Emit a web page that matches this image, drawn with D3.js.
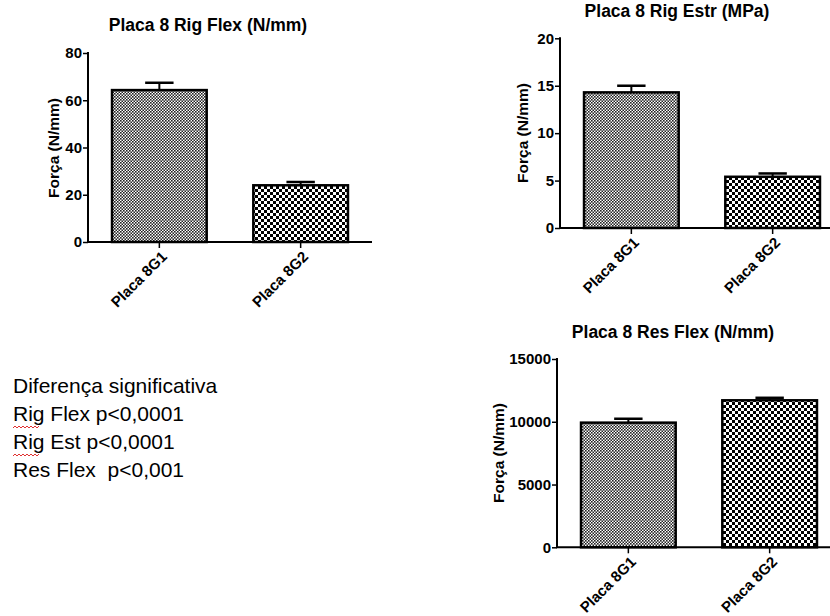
<!DOCTYPE html>
<html>
<head>
<meta charset="utf-8">
<script src="https://cdn.jsdelivr.net/npm/d3@7"></script>
<style>
  body { margin: 0; background: #fff; }
  text { font-family: "Liberation Sans", Arial, sans-serif; }
</style>
</head>
<body>
<div id="chart-area"></div>
<script>
/*
*    placa 8 - tres graficos de barras
*/
var groups = ["Placa 8G1", "Placa 8G2"];

var rigFlexMean = [64.3, 24.0];
var rigFlexErr = [3.1, 1.4];
var rigFlexTicks = [0, 20, 40, 60, 80];

var rigEstrMean = [14.3, 5.4];
var rigEstrErr = [0.7, 0.35];
var rigEstrTicks = [0, 5, 10, 15, 20];

var resFlexMean = [9930, 11710];
var resFlexErr = [310, 200];
var resFlexTicks = [0, 5000, 10000, 15000];

var notes = ["Diferença significativa", "Rig Flex p<0,0001", "Rig Est p<0,0001", "Res Flex  p<0,001"];

var width = 830;
var height = 616;
var svg = d3.select("#chart-area")
	.append("svg")
	.attr("width", width)
	.attr("height", height);

// padroes de preenchimento
var defs = svg.append("defs");
var fine = defs.append("pattern")
	.attr("id", "fine")
	.attr("patternUnits", "userSpaceOnUse")
	.attr("width", 3).attr("height", 3);
fine.append("rect").attr("width", 3).attr("height", 3).attr("fill", "#fff");
fine.append("rect").attr("width", 1.6).attr("height", 1.6).attr("fill", "#222");
fine.append("rect").attr("x", 1.5).attr("y", 1.5).attr("width", 1.5).attr("height", 1.5).attr("fill", "#222");

var coarse = defs.append("pattern")
	.attr("id", "coarse")
	.attr("patternUnits", "userSpaceOnUse")
	.attr("width", 6).attr("height", 6);
coarse.append("rect").attr("width", 6).attr("height", 6).attr("fill", "#fff");
coarse.append("rect").attr("width", 3).attr("height", 3).attr("fill", "#000");
coarse.append("rect").attr("x", 3).attr("y", 3).attr("width", 3).attr("height", 3).attr("fill", "#000");

var fills = ["url(#fine)", "url(#coarse)"];

function drawChart(o) {
	var g = svg.append("g");

	var x = d3.scaleBand()
		.domain(groups)
		.range([o.left, o.left + 284])
		.paddingInner(0.33)
		.paddingOuter(0.17);

	var y = d3.scaleLinear()
		.domain(o.domain)
		.range([o.bottom, o.top]);

	var rows = groups.map((d, i) => { return {name: d, mean: o.mean[i], err: o.err[i], fill: fills[i]}; });

	// barras
	g.selectAll("rect.bar").data(rows)
		.enter()
		.append("rect")
		.attr("class", "bar")
		.attr("x", (d) => { return x(d.name); })
		.attr("y", (d) => { return y(d.mean); })
		.attr("width", x.bandwidth())
		.attr("height", (d) => { return y(0) - y(d.mean); })
		.attr("fill", (d) => { return d.fill; })
		.attr("stroke", "#000")
		.attr("stroke-width", 2.5);

	// barras de erro
	var cap = x.bandwidth() * 0.3;
	g.selectAll("line.err").data(rows)
		.enter()
		.append("line")
		.attr("x1", (d) => { return x(d.name) + x.bandwidth() / 2; })
		.attr("x2", (d) => { return x(d.name) + x.bandwidth() / 2; })
		.attr("y1", (d) => { return y(d.mean); })
		.attr("y2", (d) => { return y(d.mean + d.err); })
		.attr("stroke", "#000")
		.attr("stroke-width", 2);
	g.selectAll("line.cap").data(rows)
		.enter()
		.append("line")
		.attr("x1", (d) => { return x(d.name) + x.bandwidth() / 2 - cap / 2; })
		.attr("x2", (d) => { return x(d.name) + x.bandwidth() / 2 + cap / 2; })
		.attr("y1", (d) => { return y(d.mean + d.err); })
		.attr("y2", (d) => { return y(d.mean + d.err); })
		.attr("stroke", "#000")
		.attr("stroke-width", 2.5);

	// eixo y
	var leftAxis = d3.axisLeft(y).tickValues(o.ticks).tickSize(5).tickPadding(1).tickFormat(d3.format("d"));
	var ya = g.append("g")
		.attr("class", "y axis")
		.attr("transform", "translate(" + o.left + ", 0)")
		.call(leftAxis);
	ya.select(".domain").remove();
	ya.append("line")
		.attr("x1", 0).attr("x2", 0)
		.attr("y1", y(o.domain[1]) - 1).attr("y2", y(0))
		.attr("stroke", "#000").attr("stroke-width", 2);
	ya.selectAll(".tick line").attr("stroke-width", 1.5);
	ya.selectAll("text")
		.attr("font-size", "15px")
		.attr("font-weight", "bold")
		.attr("fill", "#000")
		.attr("font-family", "Liberation Sans, Arial, sans-serif");

	// eixo x
	var bottomAxis = d3.axisBottom(x).tickSize(6).tickPadding(3);
	var xa = g.append("g")
		.attr("class", "x axis")
		.attr("transform", "translate(0, " + y(0) + ")")
		.call(bottomAxis);
	xa.select(".domain").remove();
	xa.append("line")
		.attr("x1", o.left - 1).attr("x2", o.right)
		.attr("y1", 0).attr("y2", 0)
		.attr("stroke", "#000").attr("stroke-width", 2);
	xa.selectAll(".tick line").attr("stroke-width", 1.5);
	xa.selectAll("text")
		.attr("font-size", "15px")
		.attr("font-weight", "bold")
		.attr("fill", "#000")
		.attr("font-family", "Liberation Sans, Arial, sans-serif")
		.attr("text-anchor", "end")
		.attr("transform", "rotate(-45)")
		.attr("dx", -5).attr("dy", 8);

	// titulo
	g.append("text")
		.attr("x", o.titleX)
		.attr("y", o.titleY)
		.attr("text-anchor", "middle")
		.attr("font-size", "17.5px")
		.attr("font-weight", "bold")
		.text(o.title);

	// rotulo y
	g.append("text")
		.attr("transform", "translate(" + o.labelX + ", " + o.labelY + ") rotate(-90)")
		.attr("text-anchor", "middle")
		.attr("dy", "0.35em")
		.attr("font-size", "15.5px")
		.attr("font-weight", "bold")
		.text("Força (N/mm)");
}

drawChart({left: 88, right: 372, top: 53, bottom: 242, domain: [0, 80], ticks: rigFlexTicks,
	mean: rigFlexMean, err: rigFlexErr, title: "Placa 8 Rig Flex (N/mm)", titleX: 208, titleY: 31, labelX: 54, labelY: 148});

drawChart({left: 560, right: 830, top: 38.3, bottom: 228, domain: [0, 20], ticks: rigEstrTicks,
	mean: rigEstrMean, err: rigEstrErr, title: "Placa 8 Rig Estr (MPa)", titleX: 677, titleY: 17, labelX: 523, labelY: 133});

drawChart({left: 557, right: 830, top: 359, bottom: 547.3, domain: [0, 15000], ticks: resFlexTicks,
	mean: resFlexMean, err: resFlexErr, title: "Placa 8 Res Flex (N/mm)", titleX: 673, titleY: 338, labelX: 499, labelY: 453});

// texto de significancia
var note = svg.append("g");
note.selectAll("text").data(notes)
	.enter()
	.append("text")
	.attr("x", 13)
	.attr("y", (d, i) => { return 393 + i * 28; })
	.attr("font-size", "21px")
	.attr("fill", "#000")
	.style("white-space", "pre")
	.text((d) => { return d; });

// sublinhado ondulado do corretor
[1, 2].forEach((i) => {
	var yy = 393 + i * 28 + 6;
	var pts = d3.range(13, 41, 2).map((xx, k) => { return [xx, yy + (k % 2 ? -1 : 1)]; });
	note.append("path")
		.attr("d", d3.line()(pts))
		.attr("fill", "none")
		.attr("stroke", "#e03030")
		.attr("stroke-width", 1);
});
</script>
</body>
</html>
